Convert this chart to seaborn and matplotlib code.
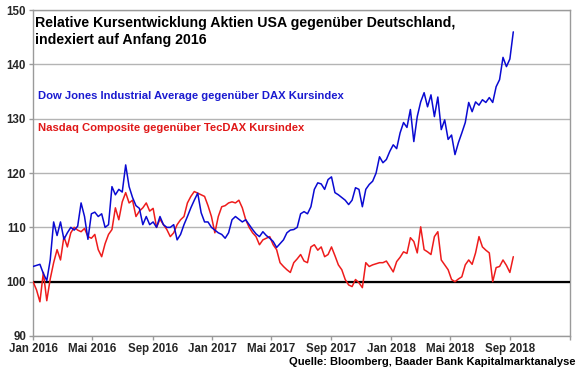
import numpy as np
import pandas as pd

import seaborn as sns
import matplotlib
matplotlib.use("Agg")
from matplotlib import pyplot as plt
import matplotlib.dates as mdates
from matplotlib.ticker import FuncFormatter, MultipleLocator

# weekly values (Fridays)
START = "2016-01-01"
END = "2018-09-07"

DJI_DAX = [
    102.8, 103.0, 103.2, 101.5, 100.2, 104.0, 111.0, 108.5, 111.0, 107.8,
    109.0, 110.0, 109.5, 110.2, 114.5, 112.0, 107.8, 112.5, 112.8, 112.0,
    112.5, 110.0, 110.5, 117.5, 116.0, 117.0, 116.5, 121.5, 117.5, 115.5,
    114.0, 113.5, 110.5, 112.0, 110.5, 111.0, 110.0, 112.0, 110.5, 110.0,
    110.0, 110.5, 107.7, 108.7, 110.5, 112.0, 113.6, 115.0, 116.3, 112.7,
    111.0, 111.0, 110.0, 109.5, 109.0, 108.7, 108.0, 109.0, 111.4, 112.0,
    111.5, 111.0, 111.4, 110.5, 109.6, 108.8, 108.3, 109.2, 108.5, 108.0,
    107.4, 106.3, 107.0, 107.7, 109.0, 109.5, 109.6, 110.0, 112.5, 112.9,
    112.5, 113.8, 117.0, 118.2, 118.0, 117.0, 118.8, 119.3, 116.4, 116.0,
    115.5, 115.0, 114.2, 115.0, 117.3, 117.0, 113.8, 117.0, 117.9, 118.5,
    120.0, 123.0, 121.9, 122.5, 124.0, 125.2, 124.5, 127.4, 129.3, 128.4,
    131.7, 125.8, 130.4, 133.1, 134.8, 132.2, 134.4, 130.4, 134.0, 128.0,
    129.8, 126.2, 127.0, 123.4, 125.6, 127.4, 129.3, 133.0, 131.3, 133.1,
    132.5, 133.5, 133.0, 133.9, 133.0, 135.9, 137.2, 141.3, 139.6, 141.0,
    146.0,
]

NASDAQ_TECDAX = [
    100.0, 98.5, 96.3, 101.7, 96.5, 100.5, 103.5, 105.9, 104.0, 108.3,
    106.4, 109.0, 110.0, 109.5, 109.2, 109.8, 108.3, 108.0, 108.7, 105.9,
    104.6, 107.0, 108.7, 109.6, 113.6, 111.4, 114.7, 116.4, 114.5, 115.0,
    112.0, 113.0, 113.6, 114.5, 113.0, 113.5, 110.0, 111.5, 110.5, 109.6,
    108.3, 109.0, 110.5, 111.4, 112.0, 114.5, 115.7, 116.6, 116.3, 116.0,
    115.7, 114.0, 112.0, 109.0, 112.0, 113.8, 114.0, 114.5, 114.7, 114.5,
    115.0, 113.6, 111.4, 110.0, 109.0, 108.3, 106.8, 107.7, 108.0, 108.3,
    106.8, 105.9, 103.5, 102.8, 102.2, 101.7, 103.5, 104.2, 105.0, 103.8,
    103.5, 106.4, 106.8, 105.8, 106.4, 104.6, 105.0, 106.4, 104.8, 103.1,
    102.2, 100.4, 99.4, 99.1, 100.4, 99.8, 98.9, 103.5, 102.8, 103.1,
    103.3, 103.5, 103.5, 103.8, 102.8, 101.8, 103.7, 104.5, 105.5, 105.2,
    108.1, 107.4, 105.3, 110.1, 105.9, 105.5, 105.0, 108.3, 109.2, 104.0,
    103.1, 102.2, 100.4, 100.0, 100.5, 100.9, 103.1, 104.0, 103.2, 105.3,
    108.3, 106.4, 105.8, 105.3, 100.0, 102.6, 102.8, 104.0, 103.0, 101.7,
    104.6,
]

LABEL_DJI = "Dow Jones Industrial Average gegenüber DAX Kursindex"
LABEL_NDQ = "Nasdaq Composite gegenüber TecDAX Kursindex"
TITLE = "Relative Kursentwicklung Aktien USA gegenüber Deutschland,\nindexiert auf Anfang 2016"
SOURCE = "Quelle: Bloomberg, Baader Bank Kapitalmarktanalyse"
MONTHS_DE = {1: "Jan", 5: "Mai", 9: "Sep"}

BLUE = "#0a0ad2"
RED = "#ee1c1c"

sns.set_style("white")
plt.rcParams["font.family"] = ["Liberation Sans", "DejaVu Sans"]

dates = pd.date_range(START, END, freq="W-FRI")
df = pd.DataFrame({"Datum": dates, "dji": DJI_DAX, "ndq": NASDAQ_TECDAX})

fig = plt.figure(figsize=(5.8, 3.75), dpi=100)
ax = fig.add_axes([0.057, 0.104, 0.926, 0.869])

ax.axhline(100, color="black", lw=1.6, zorder=3)
sns.lineplot(data=df, x="Datum", y="ndq", ax=ax, color=RED, lw=1.1, zorder=4)
sns.lineplot(data=df, x="Datum", y="dji", ax=ax, color=BLUE, lw=1.1, zorder=5)

ax.set_ylim(90, 150)
ax.set_xlim(pd.Timestamp("2016-01-01"), pd.Timestamp("2019-01-01"))
ax.yaxis.set_major_locator(MultipleLocator(10))
ax.grid(axis="y", color="#b4b4b4", lw=1.0)
ax.set_axisbelow(True)

ax.xaxis.set_major_locator(mdates.MonthLocator(bymonth=[1, 5, 9]))
ax.xaxis.set_major_formatter(FuncFormatter(
    lambda v, pos: "" if mdates.num2date(v).year > 2018
    else f"{MONTHS_DE[mdates.num2date(v).month]} {mdates.num2date(v).year}"))

for sp in ax.spines.values():
    sp.set_color("#9a9a9a")
    sp.set_linewidth(1.0)

ax.tick_params(axis="both", which="major", labelsize=8.3, length=3, width=1,
               color="#9a9a9a", pad=2, direction="out", bottom=True, left=True)
for lab in ax.get_xticklabels() + ax.get_yticklabels():
    lab.set_fontweight("bold")
ax.set_xlabel("")
ax.set_ylabel("")

ax.text(0.003, 0.982, TITLE, transform=ax.transAxes, ha="left", va="top",
        fontsize=10.2, fontweight="bold", color="black", linespacing=1.3)
ax.text(0.009, 0.736, LABEL_DJI, transform=ax.transAxes, ha="left", va="center",
        fontsize=8.1, fontweight="bold", color="#1a1ad0")
ax.text(0.009, 0.638, LABEL_NDQ, transform=ax.transAxes, ha="left", va="center",
        fontsize=8.1, fontweight="bold", color="#e01818")
fig.text(0.992, 0.022, SOURCE, ha="right", va="bottom", fontsize=8,
         fontweight="bold", color="black")

fig.savefig("out.png", dpi=100)
